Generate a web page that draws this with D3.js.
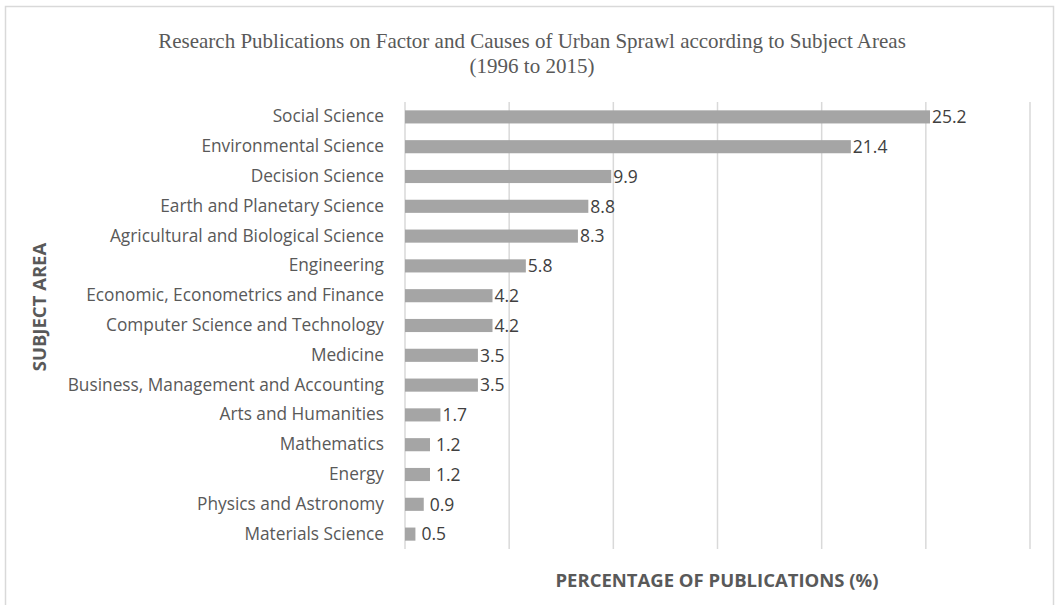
<!DOCTYPE html>
<html><head><meta charset="utf-8">
<script src="https://cdn.jsdelivr.net/npm/d3@7/dist/d3.min.js"></script>
<style>body{margin:0;background:#fff}svg{display:block}</style>
</head><body>
<svg id="c" width="1057" height="605"></svg>
<script>
const categories = ["Social Science","Environmental Science","Decision Science","Earth and Planetary Science","Agricultural and Biological Science","Engineering","Economic, Econometrics and Finance","Computer Science and Technology","Medicine","Business, Management and Accounting","Arts and Humanities","Mathematics","Energy","Physics and Astronomy","Materials Science"];
const values = [25.2,21.4,9.9,8.8,8.3,5.8,4.2,4.2,3.5,3.5,1.7,1.2,1.2,0.9,0.5];
const xTicks = [0,5,10,15,20,25,30];
const titleLines = ["Research Publications on Factor and Causes of Urban Sprawl according to Subject Areas","(1996 to 2015)"];

const svg = d3.select("#c");
svg.append("rect").attr("x",5.5).attr("y",6.5).attr("width",1048).attr("height",610)
  .attr("fill","#fff").attr("stroke","#d9d9d9").attr("stroke-width",1.5);

const x = d3.scaleLinear().domain([0,30]).range([405,1030]);
const y = d3.scaleBand().domain(categories).range([102,549]).paddingInner(0.56).paddingOuter(0.28);

// gridlines
svg.append("g").selectAll("line").data(xTicks).join("line")
  .attr("x1",d=>x(d)).attr("x2",d=>x(d)).attr("y1",102).attr("y2",549)
  .attr("stroke","#d9d9d9").attr("stroke-width",1.5);

// bars
svg.append("g").selectAll("rect").data(values).join("rect")
  .attr("x",x(0)).attr("y",(d,i)=>y(categories[i]))
  .attr("width",d=>x(d)-x(0)).attr("height",y.bandwidth())
  .attr("fill","#a5a5a5");

// value labels
svg.append("g").selectAll("text").data(values).join("text")
  .attr("x",d=>x(d)+(d<1.5?6:2)).attr("y",(d,i)=>y(categories[i])+y.bandwidth()/2)
  .attr("dy","0.36em").attr("font-family","'Open Sans',sans-serif").attr("font-size",17.5)
  .attr("fill","#404040").text(d=>d.toFixed(1));

// y axis labels
const yAxis = d3.axisLeft(y).tickSize(0).tickPadding(0);
const ga = svg.append("g").attr("transform","translate(384,0)").call(yAxis);
ga.select(".domain").remove();
ga.selectAll("text").attr("font-family","'Open Sans',sans-serif").attr("font-size",17.3).attr("fill","#595959");

// title
svg.append("g").selectAll("text").data(titleLines).join("text")
  .attr("x",532).attr("y",(d,i)=>48+i*25).attr("text-anchor","middle")
  .attr("font-family","'Liberation Serif',serif").attr("font-size",21).attr("fill","#595959").text(d=>d);

// axis titles
svg.append("text").attr("x",717).attr("y",587).attr("text-anchor","middle")
  .attr("font-family","'Open Sans',sans-serif").attr("font-weight","bold").attr("font-size",18.5)
  .attr("fill","#595959").text("PERCENTAGE OF PUBLICATIONS (%)");
svg.append("text").attr("transform","translate(46,307) rotate(-90)").attr("text-anchor","middle")
  .attr("font-family","'Open Sans',sans-serif").attr("font-weight","bold").attr("font-size",18.5)
  .attr("fill","#595959").text("SUBJECT AREA");
</script>
</body></html>
